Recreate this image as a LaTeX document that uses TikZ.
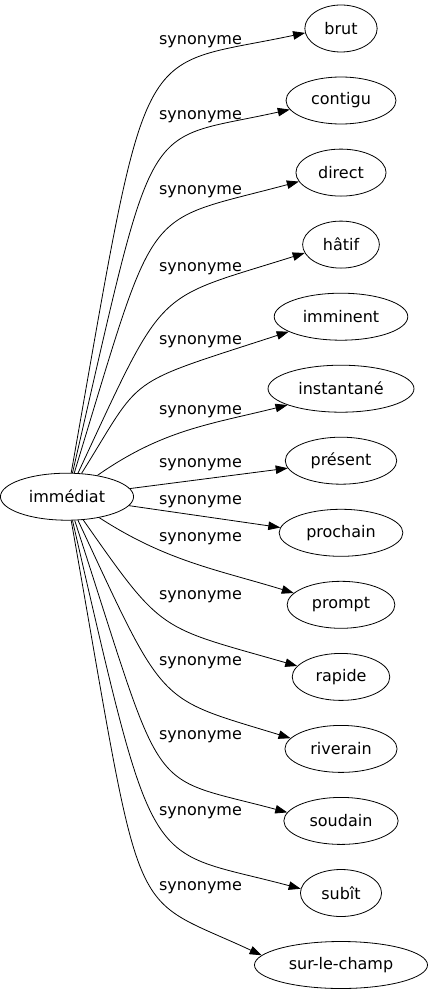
\documentclass[tikz,border=0pt]{standalone}
\usepackage{fontspec}
\setmainfont{DejaVu Sans}
\usetikzlibrary{shapes.geometric,arrows.meta}

\begin{document}
\begin{tikzpicture}[x=1pt, y=1pt,
    word/.style={draw, ellipse, line width=0.8pt, minimum height=47pt, inner xsep=9pt,
                 font=\fontsize{16}{19}\selectfont},
    syn/.style={inner sep=1pt, font=\fontsize{16}{19}\selectfont},
    rel/.style={-{Triangle[length=12pt,width=8.5pt]}, line width=0.8pt}]
      \useasboundingbox (0,0) rectangle (429,-995);

      \node [word] (imm)  at (67,-496.7) {immédiat};

      \node [word] (brut)       at (341,-28.5) {brut};
      \node [word] (contigu)    at (341,-100.5) {contigu};
      \node [word] (direct)     at (341,-172.6) {direct};
      \node [word] (hatif)      at (341,-244.6) {hâtif};
      \node [word] (imminent)   at (341,-316.7) {imminent};
      \node [word] (instantane) at (341,-388.7) {instantané};
      \node [word] (present)    at (341,-460.7) {présent};
      \node [word] (prochain)   at (341,-532.8) {prochain};
      \node [word] (prompt)     at (341,-604.8) {prompt};
      \node [word] (rapide)     at (341,-676.9) {rapide};
      \node [word] (riverain)   at (341,-748.9) {riverain};
      \node [word] (soudain)    at (341,-820.9) {soudain};
      \node [word] (subit)      at (341,-893) {subît};
      \node [word] (surlechamp) at (341,-965) {sur-le-champ};

      \node [syn] (lab1)  at (200.5,-42)    {synonyme};
      \node [syn] (lab2)  at (200.5,-116.5) {synonyme};
      \node [syn] (lab3)  at (200.5,-192)   {synonyme};
      \node [syn] (lab4)  at (200.5,-268.5) {synonyme};
      \node [syn] (lab5)  at (200.5,-342)   {synonyme};
      \node [syn] (lab6)  at (200.5,-412)   {synonyme};
      \node [syn] (lab7)  at (200.5,-465)   {synonyme};
      \node [syn] (lab8)  at (200.5,-502)   {synonyme};
      \node [syn] (lab9)  at (200.5,-539)   {synonyme};
      \node [syn] (lab10) at (200.5,-597)   {synonyme};
      \node [syn] (lab11) at (200.5,-663)   {synonyme};
      \node [syn] (lab12) at (200.5,-737)   {synonyme};
      \node [syn] (lab13) at (200.5,-813)   {synonyme};
      \node [syn] (lab14) at (200.5,-888)   {synonyme};

      \draw [rel] (imm) to [out=80, in=192, out distance=454pt, in distance=176pt] (brut.187);
      \draw [rel] (imm) to [out=77, in=192.5, out distance=377pt, in distance=154pt] (contigu.190);
      \draw [rel] (imm) to [out=73, in=195, out distance=289pt, in distance=165pt] (direct.192);
      \draw [rel] (imm) to [out=65, in=197.5, out distance=210pt, in distance=160pt] (hatif.193);
      \draw [rel] (imm) to [out=58, in=198, out distance=118pt, in distance=176pt] (imminent.196);
      \draw [rel] (imm) to [out=35, in=194, out distance=80pt, in distance=80pt] (instantane.197);
      \draw [rel] (imm) -- (present.188);
      \draw [rel] (imm) -- (prochain.175);
      \draw [rel] (imm) to [out=-33, in=163, out distance=80pt, in distance=80pt] (prompt.166);
      \draw [rel] (imm) to [out=-55, in=164, out distance=140pt, in distance=145pt] (rapide.166);
      \draw [rel] (imm) to [out=-65, in=163, out distance=208pt, in distance=141pt] (riverain.168);
      \draw [rel] (imm) to [out=-72, in=165, out distance=299pt, in distance=149pt] (soudain.171);
      \draw [rel] (imm) to [out=-77, in=165, out distance=374pt, in distance=162pt] (subit.174);
      \draw [rel] (imm) to [out=-80, in=155, out distance=423pt, in distance=151pt] (surlechamp.173);
\end{tikzpicture}
\end{document}
